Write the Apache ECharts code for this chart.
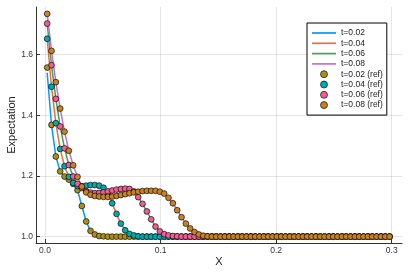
<!DOCTYPE html>
<html><head><meta charset="utf-8">
<script src="https://cdn.jsdelivr.net/npm/echarts@6/dist/echarts.min.js"></script>
<style>html,body{margin:0;padding:0;background:#fff}#c{width:409px;height:273px}</style>
</head><body><div id="c"></div>
<script>
const xs = [
0.001875, 0.005625, 0.009375, 0.013125, 0.016875, 0.020625, 0.024375, 0.028125, 0.031875, 0.035625,
0.039375, 0.043125, 0.046875, 0.050625, 0.054375, 0.058125, 0.061875, 0.065625, 0.069375, 0.073125,
0.076875, 0.080625, 0.084375, 0.088125, 0.091875, 0.095625, 0.099375, 0.103125, 0.106875, 0.110625,
0.114375, 0.118125, 0.121875, 0.125625, 0.129375, 0.133125, 0.136875, 0.140625, 0.144375, 0.148125,
0.151875, 0.155625, 0.159375, 0.163125, 0.166875, 0.170625, 0.174375, 0.178125, 0.181875, 0.185625,
0.189375, 0.193125, 0.196875, 0.200625, 0.204375, 0.208125, 0.211875, 0.215625, 0.219375, 0.223125,
0.226875, 0.230625, 0.234375, 0.238125, 0.241875, 0.245625, 0.249375, 0.253125, 0.256875, 0.260625,
0.264375, 0.268125, 0.271875, 0.275625, 0.279375, 0.283125, 0.286875, 0.290625, 0.294375, 0.298125];

// solver lines
const lineT02 = [
1.540, 1.368, 1.264, 1.215, 1.198, 1.188, 1.174, 1.153, 1.101, 1.050,
1.019, 1.007, 1.002, 1.001, 1, 1, 1, 1, 1, 1,
1,1,1,1,1,1,1,1,1,1, 1,1,1,1,1,1,1,1,1,1, 1,1,1,1,1,1,1,1,1,1,
1,1,1,1,1,1,1,1,1,1, 1,1,1,1,1,1,1,1,1,1, 1,1,1,1,1,1,1,1,1,1];
const lineT04 = [
1.652, 1.494, 1.374, 1.289, 1.232, 1.197, 1.177, 1.167, 1.166, 1.168,
1.170, 1.170, 1.168, 1.161, 1.142, 1.110, 1.075, 1.043, 1.021, 1.009,
1.004, 1.001, 1, 1, 1, 1, 1, 1, 1, 1,
1,1,1,1,1,1,1,1,1,1, 1,1,1,1,1,1,1,1,1,1, 1,1,1,1,1,1,1,1,1,1,
1,1,1,1,1,1,1,1,1,1, 1,1,1,1,1,1,1,1,1,1];
const lineT06 = [
1.702, 1.565, 1.454, 1.363, 1.291, 1.236, 1.198, 1.174, 1.160, 1.150,
1.145, 1.143, 1.144, 1.146, 1.149, 1.152, 1.155, 1.157, 1.158, 1.157,
1.149, 1.130, 1.108, 1.083, 1.057, 1.033, 1.017, 1.008, 1.004, 1.002,
1.001, 1, 1, 1, 1, 1, 1, 1, 1, 1,
1,1,1,1,1,1,1,1,1,1, 1,1,1,1,1,1,1,1,1,1, 1,1,1,1,1,1,1,1,1,1, 1,1,1,1,1,1,1,1,1,1];
const lineT08 = [
1.734, 1.612, 1.509, 1.422, 1.346, 1.283, 1.235, 1.197, 1.165, 1.146,
1.138, 1.134, 1.132, 1.131, 1.131, 1.132, 1.134, 1.137, 1.140, 1.143,
1.146, 1.148, 1.150, 1.151, 1.151, 1.151, 1.148, 1.142, 1.128, 1.110,
1.087, 1.064, 1.043, 1.027, 1.015, 1.007, 1.003, 1.001, 1, 1,
1,1,1,1,1,1,1,1,1,1, 1,1,1,1,1,1,1,1,1,1, 1,1,1,1,1,1,1,1,1,1, 1,1,1,1,1,1,1,1,1,1];

// reference points
const refT02 = [
1.557, 1.368, 1.264, 1.215, 1.198, 1.188, 1.174, 1.153, 1.101, 1.050,
1.019, 1.007, 1.002, 1.001, 1, 1, 1, 1, 1, 1,
1,1,1,1,1,1,1,1,1,1, 1,1,1,1,1,1,1,1,1,1, 1,1,1,1,1,1,1,1,1,1,
1,1,1,1,1,1,1,1,1,1, 1,1,1,1,1,1,1,1,1,1, 1,1,1,1,1,1,1,1,1,1];
const refT04 = [
1.652, 1.494, 1.374, 1.289, 1.232, 1.197, 1.177, 1.167, 1.166, 1.168,
1.170, 1.170, 1.168, 1.161, 1.142, 1.110, 1.075, 1.043, 1.021, 1.009,
1.004, 1.001, 1, 1, 1, 1, 1, 1, 1, 1,
1,1,1,1,1,1,1,1,1,1, 1,1,1,1,1,1,1,1,1,1, 1,1,1,1,1,1,1,1,1,1,
1,1,1,1,1,1,1,1,1,1, 1,1,1,1,1,1,1,1,1,1];
const refT06 = [
1.702, 1.565, 1.454, 1.363, 1.291, 1.236, 1.198, 1.174, 1.160, 1.150,
1.145, 1.143, 1.144, 1.146, 1.149, 1.152, 1.155, 1.157, 1.158, 1.157,
1.149, 1.130, 1.108, 1.083, 1.057, 1.033, 1.017, 1.008, 1.004, 1.002,
1.001, 1, 1, 1, 1, 1, 1, 1, 1, 1,
1,1,1,1,1,1,1,1,1,1, 1,1,1,1,1,1,1,1,1,1, 1,1,1,1,1,1,1,1,1,1, 1,1,1,1,1,1,1,1,1,1];
const refT08 = [
1.734, 1.612, 1.509, 1.422, 1.346, 1.283, 1.235, 1.197, 1.165, 1.146,
1.138, 1.134, 1.132, 1.131, 1.131, 1.132, 1.134, 1.137, 1.140, 1.143,
1.146, 1.148, 1.150, 1.151, 1.151, 1.151, 1.148, 1.142, 1.128, 1.110,
1.087, 1.064, 1.043, 1.027, 1.015, 1.007, 1.003, 1.001, 1, 1,
1,1,1,1,1,1,1,1,1,1, 1,1,1,1,1,1,1,1,1,1, 1,1,1,1,1,1,1,1,1,1, 1,1,1,1,1,1,1,1,1,1];

const xTicks = [0.0, 0.1, 0.2, 0.3];
const yTicks = [1.0, 1.2, 1.4, 1.6];
const lineNames = ['t=0.02', 't=0.04', 't=0.06', 't=0.08'];
const refNames = ['t=0.02 (ref)', 't=0.04 (ref)', 't=0.06 (ref)', 't=0.08 (ref)'];
const lineColors = ['#009AFA', '#E36F47', '#3EA44E', '#C371D2'];
const refColors = ['#AC8E18', '#00AAAE', '#ED5E93', '#C68225'];
const lineData = [lineT02, lineT04, lineT06, lineT08];
const refData = [refT02, refT04, refT06, refT08];

const FONT = '"Liberation Sans", Arial, Helvetica, sans-serif';
const pairs = arr => xs.map((x, i) => [x, arr[i]]);

const series = [];
lineData.forEach((arr, i) => series.push({
  type: 'line', name: lineNames[i], data: pairs(arr), symbol: 'none',
  lineStyle: { color: lineColors[i], width: 1.5 }, itemStyle: { color: lineColors[i] },
  z: 2, silent: true
}));
refData.forEach((arr, i) => series.push({
  type: 'scatter', name: refNames[i], data: pairs(arr), symbol: 'circle', symbolSize: 5.8,
  itemStyle: { color: refColors[i], borderColor: 'rgba(0,0,0,0.8)', borderWidth: 0.8, opacity: 1 },
  z: 3, silent: true
}));

const axisCommon = {
  type: 'value',
  axisLine: { show: true, onZero: false, lineStyle: { color: '#333', width: 1 } },
  splitLine: { show: true, lineStyle: { color: 'rgba(0,0,0,0.1)', width: 1 } },
  nameLocation: 'middle',
  nameMoveOverlap: false,
  nameTextStyle: { fontSize: 11, color: '#222', fontFamily: FONT }
};

const LINE_ICON = 'path://M0,0 L24,0 L24,1.7 L0,1.7 Z';
const legendData = lineNames.map((n, i) => ({ name: n, icon: LINE_ICON,
    itemStyle: { color: lineColors[i], borderWidth: 0, borderColor: 'transparent' } }))
  .concat(refNames.map((n, i) => ({ name: n, icon: 'circle',
    itemStyle: { color: refColors[i], borderColor: 'rgba(0,0,0,0.8)', borderWidth: 0.8 } })));

const chart = echarts.init(document.getElementById('c'), null, { renderer: 'canvas' });
chart.setOption({
  animation: false,
  backgroundColor: '#fff',
  grid: { left: 36, right: 7, top: 7, bottom: 30, containLabel: false, outerBoundsMode: 'none' },
  xAxis: Object.assign({}, axisCommon, {
    min: -0.0078, max: 0.3089, name: 'X', nameGap: 13,
    axisTick: { show: true, inside: true, length: 4, customValues: xTicks, lineStyle: { color: '#333' } },
    axisLabel: { customValues: xTicks, formatter: v => v.toFixed(1), fontSize: 8.5, color: '#333', margin: 3, fontFamily: FONT }
  }),
  yAxis: Object.assign({}, axisCommon, {
    min: 0.979, max: 1.7566, name: 'Expectation', nameGap: 19, nameRotate: 90,
    axisTick: { show: true, inside: true, length: 4, customValues: yTicks, lineStyle: { color: '#333' } },
    axisLabel: { customValues: yTicks, formatter: v => v.toFixed(1), fontSize: 8.5, color: '#333', margin: 3, fontFamily: FONT }
  }),
  legend: {
    orient: 'vertical', left: 307, top: 23,
    padding: [5, 4, 5, 5],
    backgroundColor: '#fff', borderColor: '#000', borderWidth: 1, borderRadius: 0,
    itemWidth: 24, itemHeight: 7, itemGap: 0.3, symbolKeepAspect: true,
    textStyle: { fontSize: 8.5, lineHeight: 10, color: '#222', fontFamily: FONT },
    data: legendData,
    selectedMode: false
  },
  series: series
});
</script>
</body></html>
